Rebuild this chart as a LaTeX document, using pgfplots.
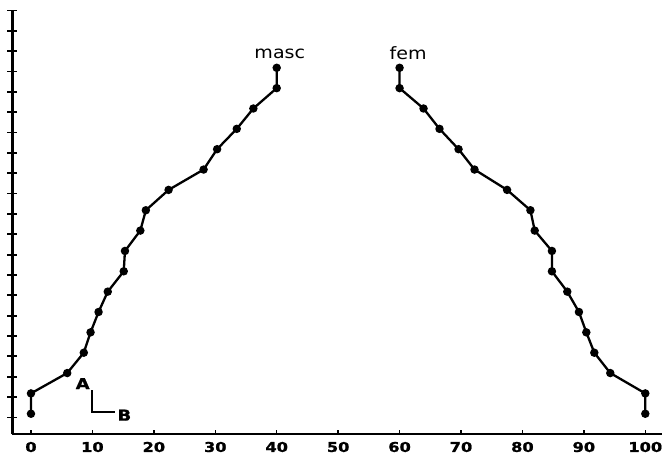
\documentclass[border=0pt]{standalone}
\usepackage{pgfplots}
\pgfplotsset{compat=1.18}
\usepackage{fontspec}
\setmainfont{DejaVu Sans}
\newfontfamily\labelfont[FakeStretch=1.12]{DejaVu Sans}
\newfontfamily\tickfont[FakeStretch=1.2,FakeBold=1.2]{DejaVu Sans Bold}
\usetikzlibrary{calc}
\pgfplotstableread{
x y
0 1
0 2
5.9 3
8.6 4
9.7 5
11.0 6
12.5 7
15.1 8
15.3 9
17.8 10
18.7 11
22.4 12
28.1 13
30.3 14
33.5 15
36.2 16
40.0 17
40.0 18
}\masc
\pgfplotstableread{
x y
100 1
100 2
94.3 3
91.7 4
90.4 5
89.2 6
87.3 7
84.8 8
84.8 9
82.0 10
81.3 11
77.5 12
72.2 13
69.6 14
66.5 15
63.9 16
60.0 17
60.0 18
}\fem
\begin{document}
\begin{tikzpicture}
\pgfplotsset{
  myaxis/.style={
    scale only axis, width=649.7bp, height=424.1bp,
    xmin=-3.04, xmax=102.72, ymin=0, ymax=20.84,
    clip=false,
  }
}
\begin{axis}[myaxis,
  axis lines=left,
  axis line style={-, line width=2.4bp, black},
  xtick={0,10,20,30,40,50,60,70,80,90,100},
  xticklabels={0,10,20,30,40,50,60,70,80,90,100},
  x tick style={draw=none},
  xticklabel style={font=\tickfont\fontsize{13.5bp}{15bp}\selectfont, inner sep=0pt, text depth=0pt, anchor=north, yshift=-2.6bp},
  ytick={0.82,1.82,2.82,3.82,4.82,5.82,6.82,7.82,8.82,9.82,10.82,11.82,12.82,13.82,14.82,15.82,16.82,17.82,18.82,19.82,20.82},
  yticklabels={},
  tick align=center,
  major tick length=10bp,
  y tick style={line width=1.8bp, black},
]
\addplot[black, line width=2.3bp, mark=*, mark size=3bp] table {\masc};
\addplot[black, line width=2.3bp, mark=*, mark size=3bp] table {\fem};
\node[anchor=base] at (axis cs:40.5,18.46) {\labelfont\fontsize{17bp}{20bp}\selectfont masc};
\node[anchor=base] at (axis cs:61.4,18.41) {\labelfont\fontsize{17bp}{20bp}\selectfont fem};
\draw[line width=2bp] (axis cs:10,2.16) -- (axis cs:10,1.07) -- (axis cs:13.7,1.07);
\node at (axis cs:8.42,2.48) {\tickfont\fontsize{15bp}{17bp}\selectfont A};
\node at (axis cs:15.2,0.93) {\tickfont\fontsize{15bp}{17bp}\selectfont B};
\coordinate (bl) at (rel axis cs:0,0);
\coordinate (tr) at (rel axis cs:1,1);
\end{axis}
\begin{axis}[myaxis,
  axis x line=bottom, axis y line=none,
  axis line style={draw=none},
  xtick={0,10,...,100}, xticklabels={},
  ytick=\empty,
  tick align=inside,
  major tick length=4bp,
  x tick style={line width=1.4bp, black},
]
\end{axis}
\pgfresetboundingbox
\path ($(bl)+(-12.3bp,-21bp)$) rectangle ($(tr)+(0bp,10bp)$);
\end{tikzpicture}
\end{document}
